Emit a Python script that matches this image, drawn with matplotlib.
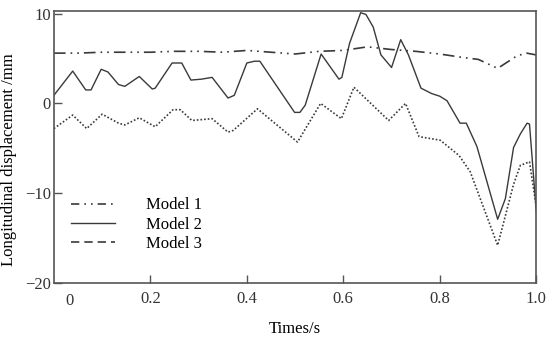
"""
Longitudinal displacement vs time for three models.
"""
import matplotlib
matplotlib.use("Agg")
import matplotlib.pyplot as plt
from matplotlib.lines import Line2D

plt.rcParams.update({
    "font.family": ["Liberation Serif", "DejaVu Serif"],
    "font.size": 12,
    "xtick.direction": "in",
    "ytick.direction": "in",
})

# ── Data ──────────────────────────────────────────────────────────────────────
t_m1 = [0, 0.05, 0.1, 0.15, 0.2, 0.25, 0.3, 0.35, 0.4, 0.45, 0.5, 0.55,
        0.6, 0.65, 0.7, 0.75, 0.8, 0.85, 0.88, 0.92, 0.96, 0.98, 1.0]
model1 = [5.6, 5.6, 5.7, 5.7, 5.7, 5.8, 5.8, 5.7, 5.9, 5.7, 5.5, 5.8,
          5.9, 6.3, 6.0, 5.8, 5.5, 5.1, 4.9, 3.9, 5.3, 5.6, 5.4]

t_m2 = [0, 0.039, 0.066, 0.077, 0.098, 0.112, 0.134, 0.147, 0.177, 0.204,
        0.210, 0.245, 0.265, 0.284, 0.306, 0.328, 0.361, 0.374, 0.400, 0.416,
        0.427, 0.499, 0.510, 0.521, 0.554, 0.591, 0.597, 0.613, 0.636, 0.647,
        0.662, 0.678, 0.700, 0.719, 0.735, 0.761, 0.783, 0.800, 0.815, 0.842,
        0.855, 0.877, 0.920, 0.936, 0.953, 0.967, 0.981, 0.986, 1.0]
model2 = [0.9, 3.6, 1.5, 1.5, 3.8, 3.5, 2.1, 1.9, 3.0, 1.6,
          1.7, 4.5, 4.5, 2.6, 2.7, 2.9, 0.6, 0.9, 4.5, 4.7,
          4.7, -1.0, -1.0, -0.2, 5.5, 2.7, 2.9, 6.7, 10.1, 9.9,
          8.5, 5.4, 4.0, 7.1, 5.4, 1.7, 1.1, 0.8, 0.3, -2.2,
          -2.2, -4.8, -12.9, -10.6, -4.9, -3.4, -2.2, -2.3, -12.0]

t_m3 = [0, 0.039, 0.068, 0.100, 0.134, 0.147, 0.177, 0.210, 0.247, 0.262,
        0.286, 0.328, 0.361, 0.372, 0.422, 0.505, 0.553, 0.596, 0.622, 0.694,
        0.729, 0.757, 0.801, 0.840, 0.863, 0.920, 0.953, 0.967, 0.986, 1.0]
model3 = [-2.8, -1.3, -2.8, -1.2, -2.2, -2.4, -1.6, -2.6, -0.7, -0.7,
          -1.9, -1.7, -3.2, -3.0, -0.6, -4.3, 0.0, -1.7, 1.8, -1.9,
          0.0, -3.7, -4.1, -5.8, -7.6, -15.8, -9.0, -6.9, -6.5, -11.5]

x_ticks = [0.2, 0.4, 0.6, 0.8, 1.0]
x_tick_labels = ["0.2", "0.4", "0.6", "0.8", "1.0"]
y_ticks = [-20, -10, 0, 10]
y_tick_labels = ["\u221220", "\u221210", "0", "10"]
labels = ["Model 1", "Model 2", "Model 3"]

# ── Figure ────────────────────────────────────────────────────────────────────
fig = plt.figure(figsize=(5.5, 3.41), dpi=100)
ax = fig.add_axes([0.098, 0.170, 0.877, 0.798])

line_col = "#3a3a3a"
ls_m1 = (0, (7, 3, 1, 3, 1, 3))
ax.plot(t_m1, model1, color=line_col, lw=1.2, linestyle=ls_m1)
ax.plot(t_m2, model2, color=line_col, lw=1.0, linestyle="-")
ax.plot(t_m3, model3, color=line_col, lw=1.2, linestyle=(0, (1, 1.2)))

ax.set_xlim(0, 1.0)
ax.set_ylim(-20, 10.3)
ax.set_xticks(x_ticks)
ax.set_xticklabels(x_tick_labels)
ax.set_yticks(y_ticks)
ax.set_yticklabels(y_tick_labels)
ax.tick_params(axis="both", length=6, width=1.0, color="#555555",
               labelcolor="#333333", labelsize=12)
ax.tick_params(axis="x", pad=6)
ax.tick_params(axis="y", pad=2)
# "0" label sits slightly right of the left spine in the reference
ax.text(0.033, -0.038, "0", transform=ax.transAxes, ha="center", va="top",
        fontsize=12, color="#333333")

for sp in ax.spines.values():
    sp.set_color("#555555")
    sp.set_linewidth(1.2)

ax.set_xlabel("Times/s", fontsize=12, labelpad=10)
ax.set_ylabel("Longitudinal displacement /mm", fontsize=12)
ax.yaxis.set_label_coords(-0.077, 0.455)

handles = [
    Line2D([0], [0], color=line_col, lw=1.2, linestyle=(0, (5, 3, 1, 3, 1, 3))),
    Line2D([0], [0], color=line_col, lw=1.0, linestyle="-"),
    Line2D([0], [0], color=line_col, lw=1.2, linestyle=(0, (5, 3))),
]
ax.legend(handles, labels, loc="upper left", bbox_to_anchor=(0.005, 0.37),
          frameon=False, handlelength=2.6, handletextpad=1.9,
          labelspacing=0.2, fontsize=12)

fig.savefig("out.png", dpi=100)
